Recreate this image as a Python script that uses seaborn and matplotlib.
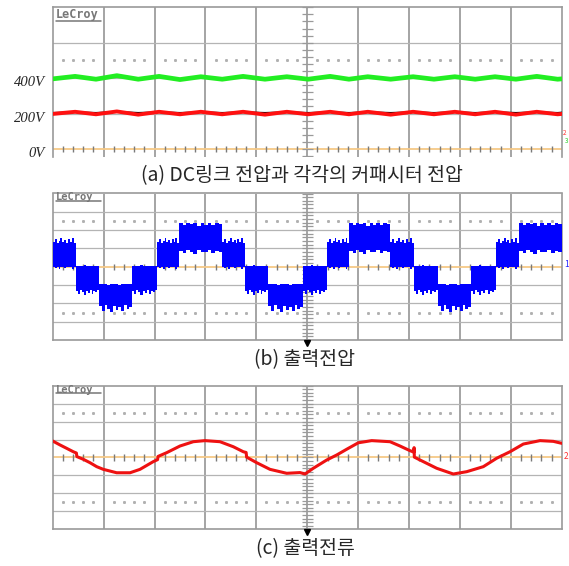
import numpy as np
import matplotlib
matplotlib.use("Agg")
import matplotlib.pyplot as plt
import seaborn as sns

sns.set_style("white")
plt.rcParams['font.family'] = ['Noto Sans CJK KR', 'DejaVu Sans']

# 모든 값은 오실로스코프 눈금(division) 단위로 읽음 (가로 10 div)
# (a) DC링크 전압 / 커패시터 전압 (세로: 200V/div)
dc_x = [0.00, 0.44, 0.85, 1.26, 1.68, 2.09, 2.50, 2.91, 3.33, 3.74, 4.17, 4.60, 5.02,
        5.45, 5.82, 6.19, 6.64, 7.08, 7.49, 7.90, 8.30, 8.69, 9.10, 9.51, 9.92, 10.00]
dc_link = [1.98, 2.05, 1.97, 2.07, 1.97, 2.05, 1.96, 2.04, 1.97, 2.05, 1.97, 2.04, 1.97,
           2.05, 1.97, 2.04, 1.97, 2.04, 1.97, 2.04, 1.97, 2.04, 1.97, 2.05, 1.97, 1.98]
cap_red = [0.99, 1.05, 0.98, 1.06, 0.97, 1.05, 0.98, 1.05, 0.98, 1.05, 0.97, 1.05, 0.98,
           1.05, 0.98, 1.05, 0.97, 1.05, 0.98, 1.05, 0.98, 1.05, 0.97, 1.05, 0.98, 0.99]
cap_black = [1.02, 1.04, 1.02, 1.05, 1.02, 1.04, 1.02, 1.04, 1.02, 1.04, 1.02, 1.04, 1.02,
             1.04, 1.02, 1.04, 1.02, 1.04, 1.02, 1.04, 1.02, 1.04, 1.02, 1.04, 1.02, 1.03]
level_labels = ["400V", "200V", "0V"]
level_values = [2, 1, 0]

# (b) 출력전압: PWM 구간 (구간 경계, 구간별 전압대)
band_edges = [0.000, 0.458, 0.916, 1.558, 2.055, 2.481, 3.332, 3.778, 4.236, 4.923,
              5.395, 5.827, 6.626, 7.098, 7.576, 8.212, 8.709, 9.161, 10.000]
band_seq = ["p1", "n1", "n2", "n1", "p1", "p2", "p1", "n1", "n2", "n1",
            "p1", "p2", "p1", "n1", "n2", "n1", "p1", "p2"]
band_low = {"p1": 0.0, "p2": 0.90, "n1": -1.20, "n2": -2.00}
band_high = {"p1": 1.25, "p2": 2.38, "n1": 0.04, "n2": -0.95}
# 가장자리의 스파이크 (위/아래)
top_noise = {
    "p1": [0.10, 0.28, 0.05, 0.18, 0.32, 0.08, 0.22, 0.02, 0.26, 0.12, 0.30, 0.06],
    "p2": [0.00, -0.12, 0.02, -0.05, 0.00, -0.15, 0.03, -0.08, 0.00, -0.10, 0.02, -0.04],
    "n1": [0.00, 0.02, 0.00, 0.00, 0.03, 0.00, 0.01, 0.00, 0.02, 0.00, 0.00, 0.01],
    "n2": [0.00, 0.03, 0.00, -0.04, 0.00, 0.02, 0.00, -0.03, 0.00, 0.02, 0.00, 0.00],
}
bottom_noise = {
    "p1": [0.00, -0.05, 0.00, -0.10, 0.00, 0.00, -0.08, 0.00, -0.03, 0.00, -0.10, 0.00],
    "p2": [-0.05, -0.15, 0.00, -0.10, -0.18, 0.00, -0.08, -0.12, 0.00, -0.15, -0.05, -0.10],
    "n1": [-0.10, -0.30, -0.05, -0.20, -0.35, -0.10, -0.25, -0.05, -0.30, -0.15, -0.20, -0.08],
    "n2": [-0.15, -0.40, -0.10, -0.30, -0.45, -0.12, -0.35, -0.20, -0.42, -0.10, -0.30, -0.18],
}

# (c) 출력전류
cur_x = [0.000, 0.143, 0.275, 0.405, 0.465, 0.475, 0.601, 0.733, 0.864, 0.994, 1.257,
         1.519, 1.715, 1.976, 2.060, 2.070, 2.240, 2.501, 2.762, 2.992, 3.286, 3.548,
         3.745, 3.800, 3.810, 4.008, 4.269, 4.597, 4.859, 4.957, 5.120, 5.383, 5.580,
         5.776, 6.004, 6.267, 6.627, 6.823, 7.020, 7.095, 7.100, 7.105, 7.281, 7.544,
         7.870, 8.134, 8.460, 8.723, 8.984, 9.246, 9.574, 9.835, 10.000]
cur_y = [0.92, 0.70, 0.51, 0.32, 0.25, 0.05, -0.10, -0.29, -0.51, -0.66, -0.85,
         -0.85, -0.66, -0.23, -0.12, 0.06, 0.27, 0.64, 0.88, 0.94, 0.88, 0.60,
         0.32, 0.28, 0.02, -0.29, -0.66, -0.88, -0.84, -0.92, -0.60, -0.14, 0.14,
         0.46, 0.82, 0.94, 0.88, 0.64, 0.38, 0.30, 0.55, 0.02, -0.23, -0.60,
         -0.92, -0.79, -0.51, -0.04, 0.32, 0.75, 0.94, 0.90, 0.79]

captions = ["(a) DC링크 전압과 각각의 커패시터 전압", "(b) 출력전압", "(c) 출력전류"]

W, H = 569, 566
fig = plt.figure(figsize=(W / 100, H / 100), dpi=100)


def add_panel(top_px, bottom_px):
    x0, x1 = 52.7, 561.7
    return fig.add_axes([x0 / W, 1 - bottom_px / H, (x1 - x0) / W, (bottom_px - top_px) / H])


def graticule(ax, ylo, yhi, px_div, bottom_spine=True):
    ax.set_xlim(0, 10)
    ax.set_ylim(ylo, yhi)
    ax.set_xticks([])
    ax.set_yticks([])
    for s in ax.spines.values():
        s.set_color("#9a9a9a")
        s.set_linewidth(1.2)
    ax.spines["bottom"].set_visible(bottom_spine)
    for x in range(1, 10):
        ax.axvline(x, color="#8c8c8c", lw=1.1, zorder=1)
    for y in range(-3, 4):
        if y != 0 and ylo < y < yhi:
            ax.axhline(y, color="#b4b4b4", lw=0.9, zorder=1)
    fifths = [i + k / 5 for i in range(10) for k in (1, 2, 3, 4)]
    for y in (-2.5, 2.5):
        if ylo < y < yhi:
            ax.plot(fifths, [y] * len(fifths), ls="none", marker="s", ms=1.1,
                    color="#b0b0b0", zorder=1)
    ax.axhline(0, color="#f6c987", lw=1.3, zorder=1.5)
    t = 3.2 / px_div
    ax.vlines(fifths, -t, t, color="#7a7a7a", lw=1.0, zorder=1.6)
    ys = [v / 5 for v in range(int(np.ceil(ylo * 5)), int(np.floor(yhi * 5)) + 1)]
    ax.hlines(ys, 5 - 0.105, 5 + 0.105, color="#9a9a9a", lw=0.9, zorder=1.6)


def logo(ax, ytext, yline, size):
    ax.text(0.006, ytext, "LeCroy", transform=ax.transAxes, ha="left", va="center",
            fontsize=size, fontweight="bold", family="DejaVu Sans Mono", color="#777777")
    ax.plot([0.006, 0.094], [yline, yline], transform=ax.transAxes, color="#777777", lw=1.1)


# ---- (a)
ax_a = add_panel(7.3, 157)
graticule(ax_a, -0.226, 4.0, 35.4, bottom_spine=False)
logo(ax_a, 0.949, 0.910, 8.5)
sns.lineplot(x=dc_x, y=cap_black, ax=ax_a, color="black", lw=1.3, estimator=None, zorder=3)
sns.lineplot(x=dc_x, y=cap_red, ax=ax_a, color="#ff1010", lw=2.8, estimator=None, zorder=4)
sns.lineplot(x=dc_x, y=dc_link, ax=ax_a, color="#22ee22", lw=3.4, estimator=None, zorder=4)
for lab, val in zip(level_labels, level_values):
    ax_a.text(-0.15, val - 0.13, lab, ha="right", va="center", fontsize=10.5,
              family="Liberation Serif", style="italic", clip_on=False)
ax_a.text(10.02, 0.45, "2", color="#ff3030", fontsize=4.5, ha="left", va="center", clip_on=False)
ax_a.text(10.06, 0.22, "3", color="#22cc22", fontsize=4.5, ha="left", va="center", clip_on=False)

# ---- (b)
ax_b = add_panel(193.5, 340)
graticule(ax_b, -4, 4, 18.3)
logo(ax_b, 0.973, 0.949, 7.5)
for i, band in enumerate(band_seq):
    xs = np.linspace(band_edges[i], band_edges[i + 1], len(top_noise[band]) + 1)
    hi = [band_high[band] + v for v in top_noise[band]]
    lo = [band_low[band] + v for v in bottom_noise[band]]
    ax_b.fill_between(xs, lo + lo[-1:], hi + hi[-1:], step="post", color="#0000ff",
                      lw=0, zorder=3)
ax_b.plot([5], [-4.17], marker="v", color="black", ms=4.5, clip_on=False, zorder=5)
ax_b.text(10.04, 0.15, "1", color="#2020ff", fontsize=6, ha="left", va="center", clip_on=False)

# ---- (c)
ax_c = add_panel(385.7, 529.3)
graticule(ax_c, -4, 4, 17.95)
logo(ax_c, 0.972, 0.946, 7.5)
sns.lineplot(x=cur_x, y=cur_y, ax=ax_c, color="#ee1111", lw=2.2, estimator=None, zorder=4)
ax_c.plot([5], [-4.17], marker="v", color="black", ms=4.5, clip_on=False, zorder=5)
ax_c.text(10.04, 0.05, "2", color="#ff3030", fontsize=6, ha="left", va="center", clip_on=False)

# 캡션
for cap, (cx, cy) in zip(captions, [(302, 176), (304, 360), (305, 549)]):
    fig.text(cx / W, 1 - cy / H, cap, ha="center", va="center", fontsize=14)

fig.savefig("out.png", dpi=100)
